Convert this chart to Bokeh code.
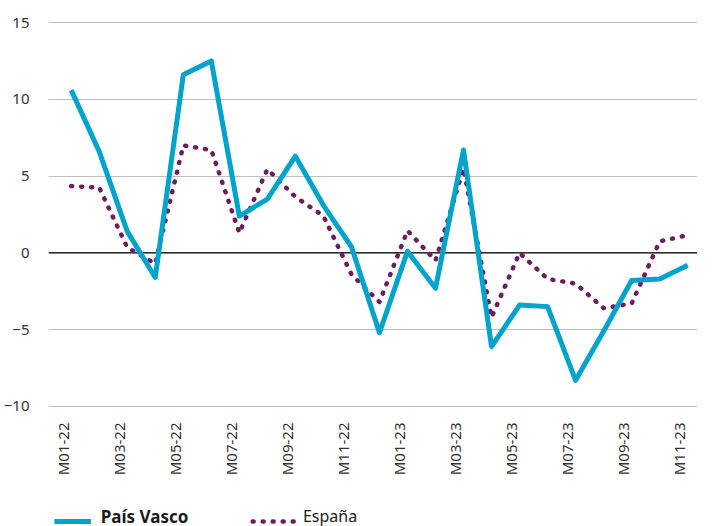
import math
from bokeh.plotting import figure
from bokeh.layouts import column
from bokeh.models import (FixedTicker, CustomJSTickFormatter, Span, Range1d)
from bokeh.core.properties import value
from bokeh.embed import file_html
from bokeh.resources import INLINE

months = ["M01-22", "M02-22", "M03-22", "M04-22", "M05-22", "M06-22",
          "M07-22", "M08-22", "M09-22", "M10-22", "M11-22", "M12-22",
          "M01-23", "M02-23", "M03-23", "M04-23", "M05-23", "M06-23",
          "M07-23", "M08-23", "M09-23", "M10-23", "M11-23"]
pais_vasco = [10.6, 6.6, 1.4, -1.6, 11.6, 12.5, 2.4, 3.5, 6.3, 3.1, 0.4, -5.2,
              0.1, -2.3, 6.7, -6.1, -3.4, -3.5, -8.3, -5.1, -1.8, -1.7, -0.8]
espana = [4.35, 4.25, 0.35, -0.7, 7.0, 6.7, 1.3, 5.45, 3.65, 2.4, -1.4, -3.2,
          1.45, -0.5, 5.5, -4.2, 0.0, -1.7, -2.0, -3.6, -3.3, 0.75, 1.15]
y_ticks = [-10, -5, 0, 5, 10, 15]
y_tick_labels = ["\u221210", "\u22125", "0", "5", "10", "15"]
series_names = ["País Vasco", "España"]

BLUE = "#00a3cb"
PURPLE = "#6b1d5e"
TXT = "#333333"
FONT = "Noto Sans"
W = 697
LEFT = 39

x = list(range(len(months)))

p = figure(width=W, height=494, output_backend="svg", toolbar_location=None,
           x_range=Range1d(-0.81, 22.35), y_range=Range1d(-10.2, 15.2),
           min_border_left=LEFT, min_border_right=0, min_border_top=19,
           min_border_bottom=85)
p.outline_line_color = None
p.background_fill_color = "white"
p.border_fill_color = "white"

# x axis
p.xaxis.ticker = FixedTicker(ticks=[i - 0.3 for i in range(0, len(months), 2)])
p.xaxis.formatter = CustomJSTickFormatter(
    args=dict(labels=months),
    code="const i = Math.round(tick + 0.3); return labels[i] || '';")
p.xaxis.major_label_orientation = math.pi / 2
p.xaxis.axis_line_color = None
p.xaxis.major_tick_line_color = None
p.xaxis.minor_tick_line_color = None
p.xaxis.major_label_standoff = 7
p.xaxis.major_label_text_font = FONT
p.xaxis.major_label_text_font_size = "15px"
p.xaxis.major_label_text_color = TXT
p.xgrid.visible = False

# y axis
p.yaxis.ticker = FixedTicker(ticks=y_ticks)
p.yaxis.major_label_overrides = dict(zip(y_ticks, y_tick_labels))
p.yaxis.axis_line_color = None
p.yaxis.major_tick_line_color = None
p.yaxis.minor_tick_line_color = None
p.yaxis.major_label_standoff = 13
p.yaxis.major_label_text_font = FONT
p.yaxis.major_label_text_font_size = "15px"
p.yaxis.major_label_text_color = TXT
p.ygrid.ticker = FixedTicker(ticks=y_ticks)
p.ygrid.grid_line_color = "#bfbfbf"
p.ygrid.grid_line_width = 1

p.add_layout(Span(location=0, dimension="width", line_color="black",
                  line_width=1.3, level="underlay"))

line_es = dict(line_color=PURPLE, line_width=4.5, line_dash="1 9",
               line_cap="round", line_join="round")
line_pv = dict(line_color=BLUE, line_width=5, line_join="round")

p.line(x, espana, **line_es)
p.line(x, pais_vasco, **line_pv)

# legend strip (figure pixel coordinates, y downwards)
LH = 32
lg = figure(width=W, height=LH, output_backend="svg", toolbar_location=None,
            x_range=Range1d(LEFT, W), y_range=Range1d(LH, 0),
            min_border_left=LEFT, min_border_right=0, min_border_top=0,
            min_border_bottom=0)
lg.axis.visible = False
lg.grid.visible = False
lg.outline_line_color = None
lg.border_fill_color = "white"
lg.background_fill_color = "white"

lg.line([45, 82], [27, 27], line_color=BLUE, line_width=5)
lg.line([246, 290], [27, 27], line_color=PURPLE, line_width=4.5,
        line_dash="1 9", line_cap="round")
lg.text([92], [21.5], text=[series_names[0]], text_font=value(FONT),
        text_font_size="17px", text_font_style="bold", text_color="#1a1a1a",
        text_baseline="middle", text_align="left")
lg.text([297], [21.5], text=[series_names[1]], text_font=value(FONT),
        text_font_size="16px", text_color="#1a1a1a",
        text_baseline="middle", text_align="left")

layout = column(p, lg, spacing=0)
open("out.html", "w").write(file_html(layout, INLINE))
